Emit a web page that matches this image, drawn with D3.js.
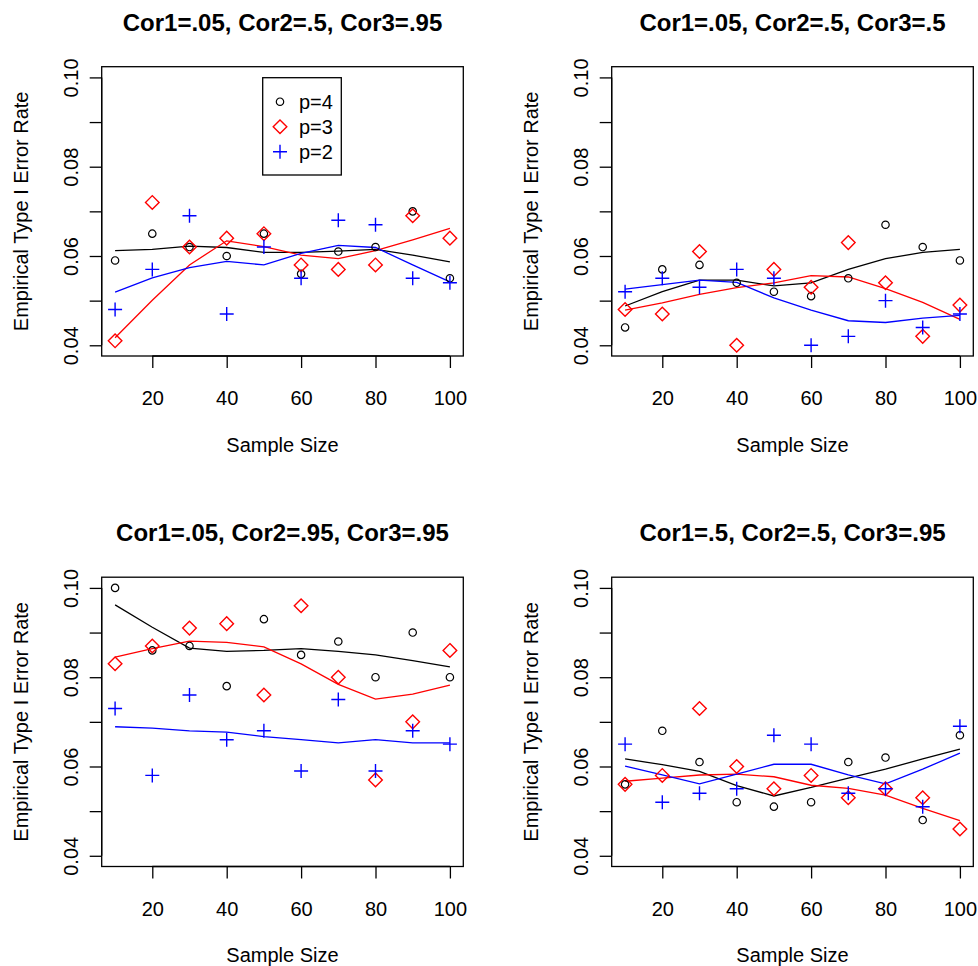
<!DOCTYPE html>
<html>
<head>
<meta charset="utf-8">
<script src="https://cdn.jsdelivr.net/npm/d3@7"></script>
<style>
  body { margin: 0; background: #fff; }
  svg { display: block; font-family: "Liberation Sans", Arial, sans-serif; }
</style>
</head>
<body>
<div id="chart"></div>
<script>
// sample sizes on the x axis
var sampleSizes = [10, 20, 30, 40, 50, 60, 70, 80, 90, 100];
var xTicks = [20, 40, 60, 80, 100];
var yTicks = [0.04, 0.05, 0.06, 0.07, 0.08, 0.09, 0.10];
var yTickLabels = ["0.04", "", "0.06", "", "0.08", "", "0.10"];

var panelTitles = [
  "Cor1=.05, Cor2=.5, Cor3=.95",
  "Cor1=.05, Cor2=.5, Cor3=.5",
  "Cor1=.05, Cor2=.95, Cor3=.95",
  "Cor1=.5, Cor2=.5, Cor3=.95"
];
var legendLabels = ["p=4", "p=3", "p=2"];

// panel 1 (top left)
var panel1P4 = [0.059, 0.065, 0.062, 0.060, 0.065, 0.056, 0.061, 0.062, 0.070, 0.055];
var panel1P3 = [0.041, 0.072, 0.062, 0.064, 0.065, 0.058, 0.057, 0.058, 0.069, 0.064];
var panel1P2 = [0.048, 0.057, 0.069, 0.047, 0.062, 0.055, 0.068, 0.067, 0.055, 0.054];
var panel1P4Fit = [0.0612, 0.0615, 0.0622, 0.0619, 0.0608, 0.0608, 0.0611, 0.0615, 0.0602, 0.0587];
var panel1P3Fit = [0.0417, 0.0501, 0.0580, 0.0634, 0.0621, 0.0602, 0.0594, 0.0612, 0.0636, 0.0662];
var panel1P2Fit = [0.0519, 0.0551, 0.0574, 0.0588, 0.0580, 0.0606, 0.0624, 0.0619, 0.0580, 0.0542];

// panel 2 (top right)
var panel2P4 = [0.044, 0.057, 0.058, 0.054, 0.052, 0.051, 0.055, 0.067, 0.062, 0.059];
var panel2P3 = [0.048, 0.047, 0.061, 0.040, 0.057, 0.053, 0.063, 0.054, 0.042, 0.049];
var panel2P2 = [0.052, 0.055, 0.053, 0.057, 0.055, 0.040, 0.042, 0.050, 0.044, 0.047];
var panel2P4Fit = [0.0488, 0.0520, 0.0546, 0.0546, 0.0533, 0.0540, 0.0570, 0.0594, 0.0608, 0.0615];
var panel2P3Fit = [0.0479, 0.0495, 0.0514, 0.0529, 0.0540, 0.0556, 0.0553, 0.0527, 0.0496, 0.0458];
var panel2P2Fit = [0.0526, 0.0536, 0.0546, 0.0541, 0.0506, 0.0479, 0.0455, 0.0451, 0.0461, 0.0467];

// panel 3 (bottom left)
var panel3P4 = [0.100, 0.086, 0.087, 0.078, 0.093, 0.085, 0.088, 0.080, 0.090, 0.080];
var panel3P3 = [0.083, 0.087, 0.091, 0.092, 0.076, 0.096, 0.080, 0.057, 0.070, 0.086];
var panel3P2 = [0.073, 0.058, 0.076, 0.066, 0.068, 0.059, 0.075, 0.059, 0.068, 0.065];
var panel3P4Fit = [0.0962, 0.0912, 0.0865, 0.0858, 0.0860, 0.0864, 0.0858, 0.0850, 0.0837, 0.0823];
var panel3P3Fit = [0.0845, 0.0864, 0.0881, 0.0878, 0.0868, 0.0830, 0.0784, 0.0751, 0.0762, 0.0782];
var panel3P2Fit = [0.0689, 0.0686, 0.0680, 0.0677, 0.0667, 0.0660, 0.0653, 0.0660, 0.0653, 0.0653];

// panel 4 (bottom right)
var panel4P4 = [0.056, 0.068, 0.061, 0.052, 0.051, 0.052, 0.061, 0.062, 0.048, 0.067];
var panel4P3 = [0.056, 0.058, 0.073, 0.060, 0.055, 0.058, 0.053, 0.055, 0.053, 0.046];
var panel4P2 = [0.065, 0.052, 0.054, 0.055, 0.067, 0.065, 0.054, 0.055, 0.051, 0.069];
var panel4P4Fit = [0.0617, 0.0604, 0.0589, 0.0557, 0.0534, 0.0553, 0.0574, 0.0594, 0.0617, 0.0639];
var panel4P3Fit = [0.0567, 0.0574, 0.0581, 0.0583, 0.0577, 0.0558, 0.0551, 0.0536, 0.0506, 0.0479];
var panel4P2Fit = [0.0601, 0.0581, 0.0561, 0.0583, 0.0605, 0.0605, 0.0581, 0.0561, 0.0594, 0.0630];

var seriesColors = ["#000000", "#ff0000", "#0000ff"];
var seriesShapes = ["circle", "diamond", "plus"];

var panels = [
  {title: panelTitles[0], points: [panel1P4, panel1P3, panel1P2], fits: [panel1P4Fit, panel1P3Fit, panel1P2Fit], dx: 0, dy: 0, legend: true},
  {title: panelTitles[1], points: [panel2P4, panel2P3, panel2P2], fits: [panel2P4Fit, panel2P3Fit, panel2P2Fit], dx: 510, dy: 0},
  {title: panelTitles[2], points: [panel3P4, panel3P3, panel3P2], fits: [panel3P4Fit, panel3P3Fit, panel3P2Fit], dx: 0, dy: 510.5},
  {title: panelTitles[3], points: [panel4P4, panel4P3, panel4P2], fits: [panel4P4Fit, panel4P3Fit, panel4P2Fit], dx: 510, dy: 510.5}
];

var svg = d3.select('#chart').append('svg')
    .attr('width', 978)
    .attr('height', 966);

// plot box inside each panel
var box = {left: 101.7, right: 463.3, top: 66.7, bottom: 356};

var x = d3.scaleLinear().domain([6.4, 103.6]).range([box.left, box.right]);
var y = d3.scaleLinear().domain([0.0376, 0.1024]).range([box.bottom, box.top]);

// symbol outlines centred on 0,0
function shapePath(kind) {
  if (kind === 'circle') return 'M3.7,0A3.7,3.7 0 1,1 -3.7,0A3.7,3.7 0 1,1 3.7,0Z';
  if (kind === 'diamond') return 'M0,-6.8L6.8,0L0,6.8L-6.8,0Z';
  return 'M-7,0H7M0,-7V7';
}

var line = d3.line()
    .x(function(d, i) { return x(sampleSizes[i]); })
    .y(function(d) { return y(d); });

panels.forEach(function(p) {
  var g = svg.append('g')
      .attr('transform', 'translate(' + p.dx + ',' + p.dy + ')');

  // title
  g.append('text')
      .attr('x', (box.left + box.right) / 2)
      .attr('y', 30.5)
      .attr('text-anchor', 'middle')
      .style('font-size', '24px')
      .style('font-weight', 'bold')
      .text(p.title);

  // fitted lines
  p.fits.forEach(function(f, k) {
    g.append('path')
        .datum(f)
        .attr('fill', 'none')
        .attr('stroke', seriesColors[k])
        .attr('stroke-width', 1.3)
        .attr('d', line);
  });

  // points
  p.points.forEach(function(s, k) {
    g.selectAll('.pt' + k)
        .data(s)
      .enter().append('path')
        .attr('class', 'pt' + k)
        .attr('transform', function(d, i) { return 'translate(' + x(sampleSizes[i]) + ',' + y(d) + ')'; })
        .attr('d', shapePath(seriesShapes[k]))
        .attr('fill', 'none')
        .attr('stroke', seriesColors[k])
        .attr('stroke-width', k === 0 ? 1.2 : 1.4);
  });

  // box
  g.append('rect')
      .attr('x', box.left)
      .attr('y', box.top)
      .attr('width', box.right - box.left)
      .attr('height', box.bottom - box.top)
      .attr('fill', 'none')
      .attr('stroke', '#000')
      .attr('stroke-width', 1.3);

  // x axis
  var xAxis = g.append('g')
      .attr('transform', 'translate(0,' + box.bottom + ')')
      .call(d3.axisBottom(x).tickValues(xTicks).tickSize(12).tickPadding(23).tickFormat(d3.format('d')));
  xAxis.select('.domain')
      .attr('d', 'M' + x(20) + ',0H' + x(100))
      .attr('stroke-width', 1.3);
  xAxis.selectAll('.tick line').attr('stroke-width', 1.3);
  xAxis.selectAll('text')
      .attr('fill', '#000')
      .style('font-size', '20px')
      .style('font-family', '"Liberation Sans", Arial, sans-serif');

  // y axis
  var yAxis = g.append('g')
      .attr('transform', 'translate(' + box.left + ',0)')
      .call(d3.axisLeft(y).tickValues(yTicks).tickSize(12).tickFormat(function(d, i) { return yTickLabels[i]; }));
  yAxis.select('.domain')
      .attr('d', 'M0,' + y(0.04) + 'V' + y(0.10))
      .attr('stroke-width', 1.3);
  yAxis.selectAll('.tick line').attr('stroke-width', 1.3);
  yAxis.selectAll('text')
      .attr('fill', '#000')
      .attr('x', null)
      .attr('dy', null)
      .attr('transform', 'translate(' + (77.5 - box.left) + ',0) rotate(-90)')
      .attr('text-anchor', 'middle')
      .style('font-size', '20px')
      .style('font-family', '"Liberation Sans", Arial, sans-serif');

  // axis titles
  g.append('text')
      .attr('x', (box.left + box.right) / 2)
      .attr('y', 451.7)
      .attr('text-anchor', 'middle')
      .style('font-size', '20px')
      .text('Sample Size');

  g.append('text')
      .attr('transform', 'translate(28,' + ((box.top + box.bottom) / 2) + ') rotate(-90)')
      .attr('text-anchor', 'middle')
      .style('font-size', '20px')
      .text('Empirical Type I Error Rate');

  // legend
  if (p.legend) {
    var lg = g.append('g');
    lg.append('rect')
        .attr('x', 262.7)
        .attr('y', 77.7)
        .attr('width', 78.6)
        .attr('height', 97.3)
        .attr('fill', '#fff')
        .attr('stroke', '#000')
        .attr('stroke-width', 1.3);
    legendLabels.forEach(function(lab, k) {
      var ly = 101.7 + k * 25;
      lg.append('path')
          .attr('transform', 'translate(280,' + ly + ')')
          .attr('d', shapePath(seriesShapes[k]))
          .attr('fill', 'none')
          .attr('stroke', seriesColors[k])
          .attr('stroke-width', k === 0 ? 1.2 : 1.4);
      lg.append('text')
          .attr('x', 299)
          .attr('y', ly + 7)
          .style('font-size', '20px')
          .text(lab);
    });
  }
});
</script>
</body>
</html>
